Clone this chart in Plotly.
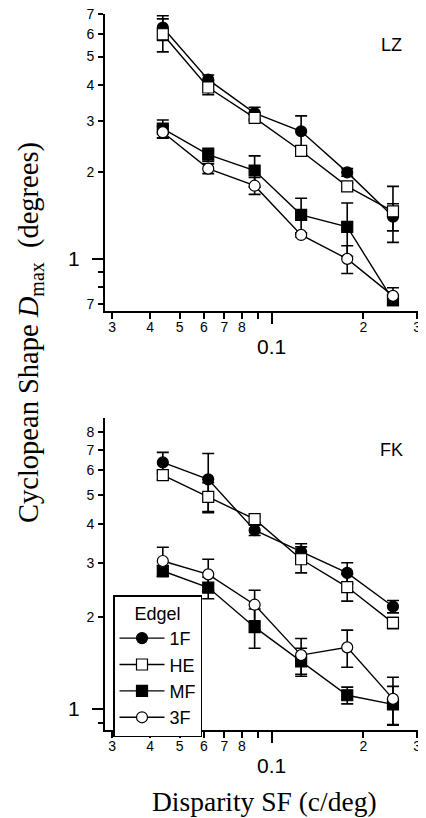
import plotly.graph_objects as go

# ---------------- data ----------------
x_sf = [0.044, 0.062, 0.088, 0.125, 0.177, 0.25]

series_names = ["1F", "HE", "MF", "3F"]

lz_1f = [6.3, 4.16, 3.19, 2.76, 1.99, 1.40]
lz_1f_err = [0.62, 0.16, 0.15, 0.36, 0.06, 0.15]
lz_he = [5.97, 3.91, 3.07, 2.36, 1.78, 1.46]
lz_he_err = [0.78, 0.22, 0.07, 0.05, 0.05, 0.32]
lz_mf = [2.82, 2.29, 2.02, 1.42, 1.29, 0.72]
lz_mf_err = [0.2, 0.12, 0.25, 0.2, 0.27, 0.03]
lz_3f = [2.74, 2.05, 1.79, 1.21, 1.00, 0.745]
lz_3f_err = [0.13, 0.08, 0.12, 0.02, 0.11, 0.05]

fk_1f = [6.37, 5.61, 3.83, 3.26, 2.78, 2.16]
fk_1f_err = [0.5, 1.2, 0.15, 0.2, 0.22, 0.1]
fk_he = [5.79, 4.92, 4.16, 3.08, 2.5, 1.91]
fk_he_err = [0.2, 0.55, 0.1, 0.3, 0.25, 0.08]
fk_mf = [2.82, 2.49, 1.85, 1.43, 1.11, 1.036]
fk_mf_err = [0.12, 0.2, 0.27, 0.15, 0.07, 0.15]
fk_3f = [3.04, 2.75, 2.19, 1.50, 1.59, 1.08]
fk_3f_err = [0.33, 0.33, 0.25, 0.2, 0.22, 0.19]

x_minor_ticks = [0.03, 0.04, 0.05, 0.06, 0.07, 0.08, 0.2, 0.3]
x_minor_text = ["3", "4", "5", "6", "7", "8", "2", "3"]
x_unlabeled_ticks = [0.09]
x_major_ticks = [0.1]
x_major_text = ["0.1"]

lz_y_minor_ticks = [0.7, 2, 3, 4, 5, 6, 7]
lz_y_minor_text = ["7", "2", "3", "4", "5", "6", "7"]
lz_y_unlabeled_ticks = [0.8, 0.9]
fk_y_minor_ticks = [2, 3, 4, 5, 6, 7, 8]
fk_y_minor_text = ["2", "3", "4", "5", "6", "7", "8"]
fk_y_unlabeled_ticks = [0.9]
y_major_ticks = [1]
y_major_text = ["1"]

# ---------------- styles ----------------
styles = {
    "1F": dict(symbol="circle", color="black"),
    "HE": dict(symbol="square", color="white"),
    "MF": dict(symbol="square", color="black"),
    "3F": dict(symbol="circle", color="white"),
}

# page body has an 8px margin: figure drawn at (8, 8)
OFF = 8
W, H = 426 - OFF, 818 - OFF

def px(xp):
    return (xp - OFF) / W

def py(yp):
    return 1 - (yp - OFF) / H

xdom = [px(105), px(418)]
top_dom = [py(311), py(14)]
bot_dom = [py(730), py(418)]

fig = go.Figure()

def add_panel(vals, errs, xa, ya, show):
    for name, v, e in zip(series_names, vals, errs):
        st = styles[name]
        fig.add_trace(go.Scatter(
            x=x_sf, y=v, name=name, mode="lines+markers",
            xaxis=xa, yaxis=ya, showlegend=show,
            line=dict(color="black", width=1.4),
            marker=dict(symbol=st["symbol"], color=st["color"], size=11,
                        line=dict(color="black", width=1.2)),
            error_y=dict(type="data", array=e, visible=True, color="black",
                         thickness=1.6, width=6),
            hoverinfo="skip",
        ))

add_panel([lz_1f, lz_he, lz_mf, lz_3f], [lz_1f_err, lz_he_err, lz_mf_err, lz_3f_err], "x", "y", False)
add_panel([fk_1f, fk_he, fk_mf, fk_3f], [fk_1f_err, fk_he_err, fk_mf_err, fk_3f_err], "x2", "y2", True)

# invisible anchors for overlay axes
for xa, ya in [("x3", "y3"), ("x4", "y4")]:
    fig.add_trace(go.Scatter(x=x_major_ticks, y=y_major_ticks, mode="markers",
                             xaxis=xa, yaxis=ya, showlegend=False,
                             marker=dict(opacity=0), hoverinfo="skip"))

sans = "Liberation Sans, Arial, sans-serif"
tickfont = dict(family=sans, size=14, color="black")
bigfont = dict(family=sans, size=21, color="black")
xrange_ = [-1.546, -0.52]
lz_yrange = [-0.18, 0.846]
fk_yrange = [-0.068, 0.949]

def minor_ticks(vals, ln):
    return dict(tickmode="array", tickvals=vals, ticks="outside", ticklen=ln,
                tickwidth=1.5, tickcolor="black", showgrid=False)

def base_axis(**kw):
    d = dict(type="log", showgrid=False, zeroline=False, ticks="outside",
             tickcolor="black", tickwidth=1.5, ticklen=5, tickmode="array",
             tickfont=tickfont, linecolor="black", linewidth=1.6, automargin=False,
             ticklabeloverflow="allow")
    d.update(kw)
    return d

fig.update_layout(
    width=W, height=H,
    margin=dict(l=0, r=0, t=0, b=0, autoexpand=False),
    paper_bgcolor="white", plot_bgcolor="white",
    xaxis=base_axis(domain=xdom, range=xrange_, anchor="y", showline=True,
                    tickvals=x_minor_ticks, ticktext=x_minor_text, ticklen=6,
                    ticklabelstandoff=-4, minor=minor_ticks(x_unlabeled_ticks, 6)),
    yaxis=base_axis(domain=top_dom, range=lz_yrange, anchor="x", showline=True,
                    tickvals=lz_y_minor_ticks, ticktext=lz_y_minor_text, ticklabelstandoff=1,
                    minor=minor_ticks(lz_y_unlabeled_ticks, 5)),
    xaxis2=base_axis(domain=xdom, range=xrange_, anchor="y2", showline=True,
                     tickvals=x_minor_ticks, ticktext=x_minor_text, ticklen=6,
                     ticklabelstandoff=-4, minor=minor_ticks(x_unlabeled_ticks, 6)),
    yaxis2=base_axis(domain=bot_dom, range=fk_yrange, anchor="x2", showline=True,
                     tickvals=fk_y_minor_ticks, ticktext=fk_y_minor_text, ticklabelstandoff=1,
                     minor=minor_ticks(fk_y_unlabeled_ticks, 5)),
    xaxis3=base_axis(domain=xdom, range=xrange_, anchor="y3", overlaying="x", showline=False,
                     tickvals=x_major_ticks, ticktext=x_major_text, ticklen=12,
                     tickfont=bigfont, ticklabelstandoff=5),
    yaxis3=base_axis(domain=top_dom, range=lz_yrange, anchor="x3", overlaying="y", showline=False,
                     tickvals=y_major_ticks, ticktext=y_major_text, ticklen=12,
                     tickfont=bigfont, ticklabelstandoff=8),
    xaxis4=base_axis(domain=xdom, range=xrange_, anchor="y4", overlaying="x2", showline=False,
                     tickvals=x_major_ticks, ticktext=x_major_text, ticklen=12,
                     tickfont=bigfont, ticklabelstandoff=5),
    yaxis4=base_axis(domain=bot_dom, range=fk_yrange, anchor="x4", overlaying="y2", showline=False,
                     tickvals=y_major_ticks, ticktext=y_major_text, ticklen=12,
                     tickfont=bigfont, ticklabelstandoff=8),
    legend=dict(
        x=px(113), y=py(595), xanchor="left", yanchor="top",
        bgcolor="white", bordercolor="black", borderwidth=1.5,
        font=dict(family=sans, size=18, color="black"),
        title=dict(text="Edgel", side="top center",
                   font=dict(family=sans, size=18, color="black")),
        itemsizing="trace", tracegroupgap=0, itemwidth=45,
    ),
    showlegend=True,
)

serif = "Liberation Serif, Times New Roman, serif"
fig.add_annotation(text="Cyclopean Shape <i>D</i><sub>max</sub>  (degrees)",
                   textangle=-90, x=px(30), y=py(333), xref="paper", yref="paper",
                   xanchor="center", yanchor="middle",
                   showarrow=False, font=dict(family=serif, size=28.5, color="black"))
fig.add_annotation(text="Disparity SF (c/deg)", x=px(264), y=py(801),
                   xref="paper", yref="paper", xanchor="center", yanchor="middle",
                   showarrow=False, font=dict(family=serif, size=27.5, color="black"))
fig.add_annotation(text="LZ", x=px(391), y=py(45), xref="paper", yref="paper",
                   xanchor="center", yanchor="middle",
                   showarrow=False, font=dict(family=sans, size=18, color="black"))
fig.add_annotation(text="FK", x=px(391), y=py(450), xref="paper", yref="paper",
                   xanchor="center", yanchor="middle",
                   showarrow=False, font=dict(family=sans, size=18, color="black"))

fig.write_html("out.html")
